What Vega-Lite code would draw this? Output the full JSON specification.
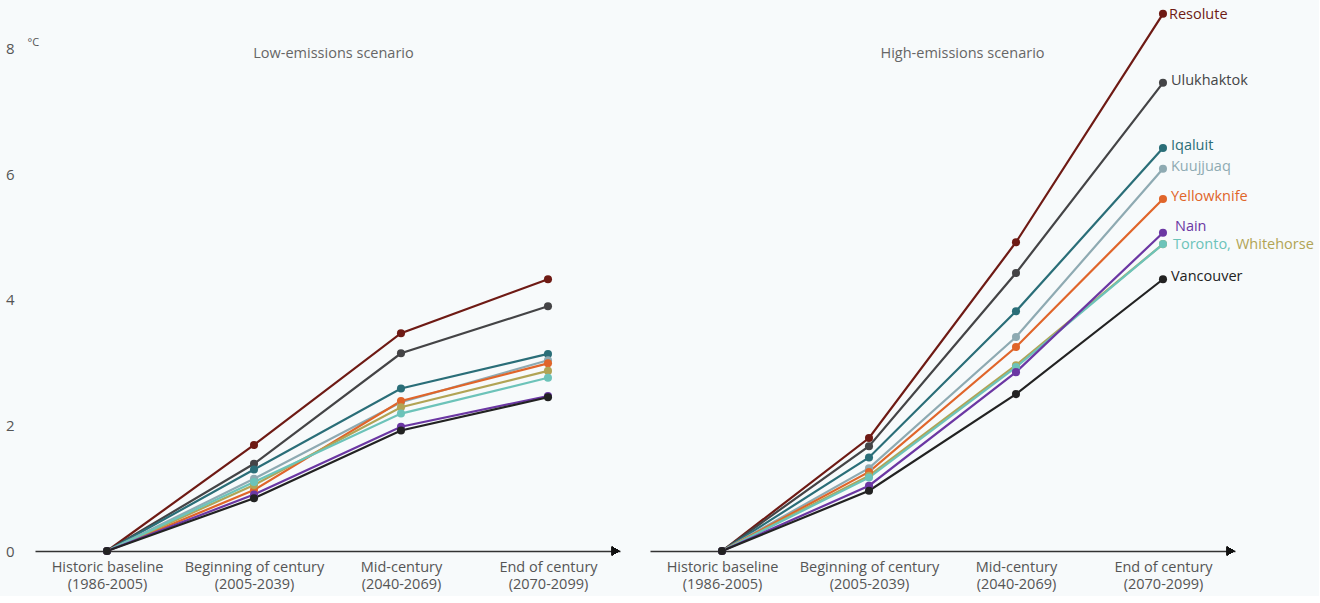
{
  "$schema": "https://vega.github.io/schema/vega-lite/v6.json",
  "background": "#f7fafb",
  "padding": 5,
  "config": {
    "font": "Open Sans",
    "view": {"stroke": null},
    "concat": {"spacing": 30}
  },
  "datasets": {
    "temps": [
      {"scenario": "Low", "city": "Resolute", "step": 0, "value": 0},
      {"scenario": "Low", "city": "Resolute", "step": 1, "value": 1.69},
      {"scenario": "Low", "city": "Resolute", "step": 2, "value": 3.47},
      {"scenario": "Low", "city": "Resolute", "step": 3, "value": 4.33},
      {"scenario": "Low", "city": "Ulukhaktok", "step": 0, "value": 0},
      {"scenario": "Low", "city": "Ulukhaktok", "step": 1, "value": 1.39},
      {"scenario": "Low", "city": "Ulukhaktok", "step": 2, "value": 3.15},
      {"scenario": "Low", "city": "Ulukhaktok", "step": 3, "value": 3.90},
      {"scenario": "Low", "city": "Iqaluit", "step": 0, "value": 0},
      {"scenario": "Low", "city": "Iqaluit", "step": 1, "value": 1.30},
      {"scenario": "Low", "city": "Iqaluit", "step": 2, "value": 2.59},
      {"scenario": "Low", "city": "Iqaluit", "step": 3, "value": 3.14},
      {"scenario": "Low", "city": "Kuujjuaq", "step": 0, "value": 0},
      {"scenario": "Low", "city": "Kuujjuaq", "step": 1, "value": 1.15},
      {"scenario": "Low", "city": "Kuujjuaq", "step": 2, "value": 2.37},
      {"scenario": "Low", "city": "Kuujjuaq", "step": 3, "value": 3.04},
      {"scenario": "Low", "city": "Yellowknife", "step": 0, "value": 0},
      {"scenario": "Low", "city": "Yellowknife", "step": 1, "value": 0.97},
      {"scenario": "Low", "city": "Yellowknife", "step": 2, "value": 2.39},
      {"scenario": "Low", "city": "Yellowknife", "step": 3, "value": 2.99},
      {"scenario": "Low", "city": "Whitehorse", "step": 0, "value": 0},
      {"scenario": "Low", "city": "Whitehorse", "step": 1, "value": 1.05},
      {"scenario": "Low", "city": "Whitehorse", "step": 2, "value": 2.29},
      {"scenario": "Low", "city": "Whitehorse", "step": 3, "value": 2.87},
      {"scenario": "Low", "city": "Toronto", "step": 0, "value": 0},
      {"scenario": "Low", "city": "Toronto", "step": 1, "value": 1.10},
      {"scenario": "Low", "city": "Toronto", "step": 2, "value": 2.19},
      {"scenario": "Low", "city": "Toronto", "step": 3, "value": 2.76},
      {"scenario": "Low", "city": "Nain", "step": 0, "value": 0},
      {"scenario": "Low", "city": "Nain", "step": 1, "value": 0.90},
      {"scenario": "Low", "city": "Nain", "step": 2, "value": 1.98},
      {"scenario": "Low", "city": "Nain", "step": 3, "value": 2.47},
      {"scenario": "Low", "city": "Vancouver", "step": 0, "value": 0},
      {"scenario": "Low", "city": "Vancouver", "step": 1, "value": 0.84},
      {"scenario": "Low", "city": "Vancouver", "step": 2, "value": 1.92},
      {"scenario": "Low", "city": "Vancouver", "step": 3, "value": 2.45},
      {"scenario": "High", "city": "Resolute", "step": 0, "value": 0},
      {"scenario": "High", "city": "Resolute", "step": 1, "value": 1.80},
      {"scenario": "High", "city": "Resolute", "step": 2, "value": 4.92},
      {"scenario": "High", "city": "Resolute", "step": 3, "value": 8.56},
      {"scenario": "High", "city": "Ulukhaktok", "step": 0, "value": 0},
      {"scenario": "High", "city": "Ulukhaktok", "step": 1, "value": 1.67},
      {"scenario": "High", "city": "Ulukhaktok", "step": 2, "value": 4.43},
      {"scenario": "High", "city": "Ulukhaktok", "step": 3, "value": 7.46},
      {"scenario": "High", "city": "Iqaluit", "step": 0, "value": 0},
      {"scenario": "High", "city": "Iqaluit", "step": 1, "value": 1.49},
      {"scenario": "High", "city": "Iqaluit", "step": 2, "value": 3.82},
      {"scenario": "High", "city": "Iqaluit", "step": 3, "value": 6.42},
      {"scenario": "High", "city": "Kuujjuaq", "step": 0, "value": 0},
      {"scenario": "High", "city": "Kuujjuaq", "step": 1, "value": 1.32},
      {"scenario": "High", "city": "Kuujjuaq", "step": 2, "value": 3.41},
      {"scenario": "High", "city": "Kuujjuaq", "step": 3, "value": 6.09},
      {"scenario": "High", "city": "Yellowknife", "step": 0, "value": 0},
      {"scenario": "High", "city": "Yellowknife", "step": 1, "value": 1.26},
      {"scenario": "High", "city": "Yellowknife", "step": 2, "value": 3.25},
      {"scenario": "High", "city": "Yellowknife", "step": 3, "value": 5.61},
      {"scenario": "High", "city": "Whitehorse", "step": 0, "value": 0},
      {"scenario": "High", "city": "Whitehorse", "step": 1, "value": 1.20},
      {"scenario": "High", "city": "Whitehorse", "step": 2, "value": 2.96},
      {"scenario": "High", "city": "Whitehorse", "step": 3, "value": 4.89},
      {"scenario": "High", "city": "Toronto", "step": 0, "value": 0},
      {"scenario": "High", "city": "Toronto", "step": 1, "value": 1.17},
      {"scenario": "High", "city": "Toronto", "step": 2, "value": 2.93},
      {"scenario": "High", "city": "Toronto", "step": 3, "value": 4.89},
      {"scenario": "High", "city": "Nain", "step": 0, "value": 0},
      {"scenario": "High", "city": "Nain", "step": 1, "value": 1.04},
      {"scenario": "High", "city": "Nain", "step": 2, "value": 2.85},
      {"scenario": "High", "city": "Nain", "step": 3, "value": 5.07},
      {"scenario": "High", "city": "Vancouver", "step": 0, "value": 0},
      {"scenario": "High", "city": "Vancouver", "step": 1, "value": 0.96},
      {"scenario": "High", "city": "Vancouver", "step": 2, "value": 2.50},
      {"scenario": "High", "city": "Vancouver", "step": 3, "value": 4.33}
    ]
  },
  "hconcat": [
    {
      "width": 585,
      "height": 546,
      "title": {"text": "Low-emissions scenario", "orient": "top", "anchor": "middle", "offset": -56, "dx": 6, "fontSize": 14.5, "fontWeight": "normal", "color": "#666666"},
      "data": {"name": "temps"},
      "transform": [{"filter": "datum.scenario === 'Low'"}],
      "encoding": {
        "x": {
          "field": "step", "type": "quantitative",
          "scale": {"domain": [-0.49, 3.49], "nice": false, "zero": false},
          "axis": {
            "values": [0, 1, 2, 3], "title": null, "grid": false, "ticks": false,
            "domainColor": "#333333", "domainWidth": 1.5,
            "labelFontSize": 14.5, "labelColor": "#555555", "labelPadding": 9, "labelLineHeight": 17,
            "labelExpr": "[['Historic baseline','(1986-2005)'],['Beginning of century','(2005-2039)'],['Mid-century','(2040-2069)'],['End of century','(2070-2099)']][datum.value]"
          }
        },
        "y": {
          "field": "value", "type": "quantitative",
          "scale": {"domain": [0, 8.7], "nice": false},
          "axis": {
            "values": [0, 2, 4, 6, 8], "grid": false, "ticks": false, "domain": false,
            "labelFontSize": 15, "labelColor": "#555555", "labelPadding": 21,
            "title": "°C", "titleAngle": 0, "titleAlign": "left", "titleBaseline": "top",
            "titleX": -8, "titleY": 31, "titleFontSize": 11, "titleFontWeight": "normal", "titleColor": "#555555"
          }
        },
        "color": {
          "field": "city", "type": "nominal", "legend": null,
          "scale": {
            "domain": ["Resolute", "Ulukhaktok", "Iqaluit", "Kuujjuaq", "Yellowknife", "Whitehorse", "Toronto", "Nain", "Vancouver"],
            "range": ["#6e1a14", "#444446", "#2a6e78", "#8eaab2", "#e0652a", "#b1a455", "#6cc3b9", "#6b37a3", "#222222"]
          }
        }
      },
      "layer": [
        {"mark": {"type": "line", "strokeWidth": 2.2}, "encoding": {"detail": {"field": "city"}}},
        {"mark": {"type": "point", "filled": true, "size": 65, "opacity": 1}},
        {
          "mark": {"type": "point", "shape": "triangle-right", "filled": true, "size": 70, "color": "#111111", "opacity": 1},
          "encoding": {"x": {"datum": 3.46, "type": "quantitative"}, "y": {"datum": 0, "type": "quantitative"}, "color": {"value": "#111111"}}
        }
      ]
    },
    {
      "width": 585,
      "height": 546,
      "title": {"text": "High-emissions scenario", "orient": "top", "anchor": "middle", "offset": -56, "dx": 20, "fontSize": 14.5, "fontWeight": "normal", "color": "#666666"},
      "data": {"name": "temps"},
      "transform": [{"filter": "datum.scenario === 'High'"}],
      "encoding": {
        "x": {
          "field": "step", "type": "quantitative",
          "scale": {"domain": [-0.49, 3.49], "nice": false, "zero": false},
          "axis": {
            "values": [0, 1, 2, 3], "title": null, "grid": false, "ticks": false,
            "domainColor": "#333333", "domainWidth": 1.5,
            "labelFontSize": 14.5, "labelColor": "#555555", "labelPadding": 9, "labelLineHeight": 17,
            "labelExpr": "[['Historic baseline','(1986-2005)'],['Beginning of century','(2005-2039)'],['Mid-century','(2040-2069)'],['End of century','(2070-2099)']][datum.value]"
          }
        },
        "y": {
          "field": "value", "type": "quantitative",
          "scale": {"domain": [0, 8.7], "nice": false},
          "axis": null
        },
        "color": {
          "field": "city", "type": "nominal", "legend": null,
          "scale": {
            "domain": ["Resolute", "Ulukhaktok", "Iqaluit", "Kuujjuaq", "Yellowknife", "Whitehorse", "Toronto", "Nain", "Vancouver"],
            "range": ["#6e1a14", "#444446", "#2a6e78", "#8eaab2", "#e0652a", "#b1a455", "#6cc3b9", "#6b37a3", "#222222"]
          }
        }
      },
      "layer": [
        {"mark": {"type": "line", "strokeWidth": 2.2}, "encoding": {"detail": {"field": "city"}}},
        {"mark": {"type": "point", "filled": true, "size": 65, "opacity": 1}},
        {
          "transform": [{"filter": "datum.step === 3 && datum.city === 'Resolute'"}],
          "mark": {"type": "text", "align": "left", "baseline": "middle", "dx": 6, "dy": 1, "fontSize": 14.5, "fontWeight": 500},
          "encoding": {"text": {"field": "city"}}
        },
        {
          "transform": [{"filter": "datum.step === 3 && datum.city !== 'Resolute' && datum.city !== 'Whitehorse' && datum.city !== 'Toronto' && datum.city !== 'Nain'"}],
          "mark": {"type": "text", "align": "left", "baseline": "middle", "dx": 8, "dy": -2, "fontSize": 14.5, "fontWeight": 500},
          "encoding": {"text": {"field": "city"}}
        },
        {
          "transform": [{"filter": "datum.step === 3 && datum.city === 'Nain'"}],
          "mark": {"type": "text", "align": "left", "baseline": "middle", "dx": 12, "dy": -6, "fontSize": 14.5, "fontWeight": 500},
          "encoding": {"text": {"field": "city"}}
        },
        {
          "transform": [{"filter": "datum.step === 3 && datum.city === 'Toronto'"}],
          "mark": {"type": "text", "align": "left", "baseline": "middle", "dx": 10, "dy": 1, "fontSize": 14.5, "fontWeight": 500},
          "encoding": {"text": {"value": "Toronto,"}}
        },
        {
          "transform": [{"filter": "datum.step === 3 && datum.city === 'Whitehorse'"}],
          "mark": {"type": "text", "align": "left", "baseline": "middle", "dx": 73, "dy": 1, "fontSize": 14.5, "fontWeight": 500},
          "encoding": {"text": {"field": "city"}}
        },
        {
          "mark": {"type": "point", "shape": "triangle-right", "filled": true, "size": 70, "color": "#111111", "opacity": 1},
          "encoding": {"x": {"datum": 3.46, "type": "quantitative"}, "y": {"datum": 0, "type": "quantitative"}, "color": {"value": "#111111"}}
        }
      ]
    }
  ]
}
